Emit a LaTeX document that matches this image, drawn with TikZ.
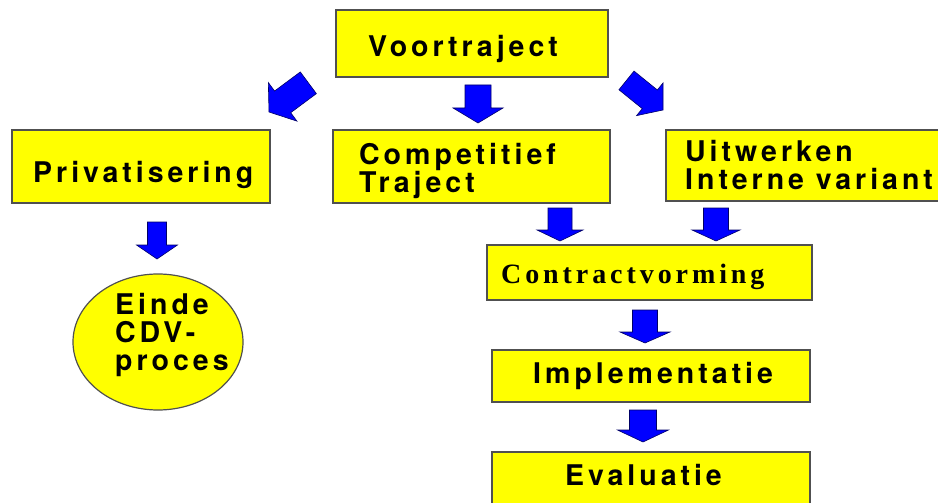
\documentclass[tikz,border=0pt]{standalone}
\usepackage{fontspec}
\newfontfamily\sansb[LetterSpace=14]{TeX Gyre Heros}
\newfontfamily\serifb[LetterSpace=14, BoldFont={Liberation Serif Bold}]{Liberation Serif}
\definecolor{boxyellow}{HTML}{FFFF00}
\definecolor{boxedge}{HTML}{505050}
\definecolor{arrblue}{HTML}{0000FF}
\definecolor{arredge}{HTML}{000066}
\tikzset{
  box/.style={draw=boxedge, line width=1.2pt, fill=boxyellow, rectangle, inner sep=0pt},
  oval/.style={draw=boxedge, line width=1.2pt, fill=boxyellow, ellipse, inner sep=0pt},
  lbl/.style={inner sep=0pt, align=left, font=\sansb\bfseries\fontsize{28.5}{28}\selectfont},
  slbl/.style={inner sep=0pt, align=left, font=\serifb\bfseries\fontsize{28}{28}\selectfont},
  arrfill/.style={fill=arrblue, draw=arredge, line width=0.6pt, line join=miter},
  arrlen/.store in=\arrL, arrsw/.store in=\arrS, arrhw/.store in=\arrH, arrhl/.store in=\arrHL,
  arrlen=38, arrsw=25, arrhw=48, arrhl=15,
  barrow/.pic={
    \draw[arrfill] (0,0) -- ({-\arrHL},{\arrH/2}) -- ({-\arrHL},{\arrS/2}) -- ({-\arrL},{\arrS/2})
      -- ({-\arrL},{-\arrS/2}) -- ({-\arrHL},{-\arrS/2}) -- ({-\arrHL},{-\arrH/2}) -- cycle;
  }
}
\usetikzlibrary{shapes.geometric}
\begin{document}
\begin{tikzpicture}[x=1pt,y=-1pt]
\useasboundingbox (0,0) rectangle (938,503);
\clip (0,0) rectangle (938,503);
\fill[white] (0,0) rectangle (938,503);

% boxes
\node[box, minimum width=272pt, minimum height=67pt] (voor) at (472,43.5) {};
\node[box, minimum width=258pt, minimum height=73pt] (priv) at (141,166.5) {};
\node[box, minimum width=277pt, minimum height=73pt] (comp) at (471.5,166.5) {};
\node[box, minimum width=280pt, minimum height=71pt] (uitw) at (806,165.5) {};
\node[box, minimum width=325pt, minimum height=55pt] (contr) at (649.5,272.5) {};
\node[box, minimum width=318pt, minimum height=52pt] (impl) at (651,376) {};
\node[box, minimum width=318pt, minimum height=56pt] (eval) at (651,480) {};
\node[oval, minimum width=170pt, minimum height=136pt] (einde) at (158,342) {};

% texts
\node[lbl, anchor=base west] (tvoor) at (368,57) {Voortraject};
\node[lbl, anchor=base west] (tpriv) at (33,182) {Privatisering};
\node[lbl, anchor=base west] (tcomp) at (359,192) {Competitief\\Traject};
\node[lbl, anchor=base west] (tuitw) at (685,189) {Uitwerken\\Interne variant};
\node[slbl, anchor=base west] (tcontr) at (501,283) {Contractvorming};
\node[lbl, anchor=base west] (timpl) at (533,383) {Implementatie};
\node[lbl, anchor=base west] (teval) at (565,485) {Evaluatie};
\node[lbl, anchor=base west] (teinde) at (115,370) {Einde\\CDV-\\proces};

% block arrows
\pic[rotate=-90, arrlen=38, arrsw=26, arrhw=50, arrhl=15] (a1) at (478,123) {barrow};
\pic[rotate=216.6, arrlen=49, arrsw=27, arrhw=48, arrhl=17] (a2) at (269,112) {barrow};
\pic[rotate=-39, arrlen=47, arrsw=24, arrhw=42, arrhl=17] (a3) at (663,110) {barrow};
\pic[rotate=-90, arrlen=37, arrsw=19, arrhw=41, arrhl=14] (a4) at (157,259) {barrow};
\pic[rotate=-90, arrlen=33, arrsw=24, arrhw=46, arrhl=11] (a5) at (560,241) {barrow};
\pic[rotate=-90, arrlen=33, arrsw=25, arrhw=48, arrhl=11] (a6) at (716,241) {barrow};
\pic[rotate=-90, arrlen=33, arrsw=25, arrhw=50, arrhl=11] (a7) at (645,343) {barrow};
\pic[rotate=-90, arrlen=32, arrsw=27, arrhw=51, arrhl=12] (a8) at (643,442) {barrow};
\end{tikzpicture}
\end{document}
